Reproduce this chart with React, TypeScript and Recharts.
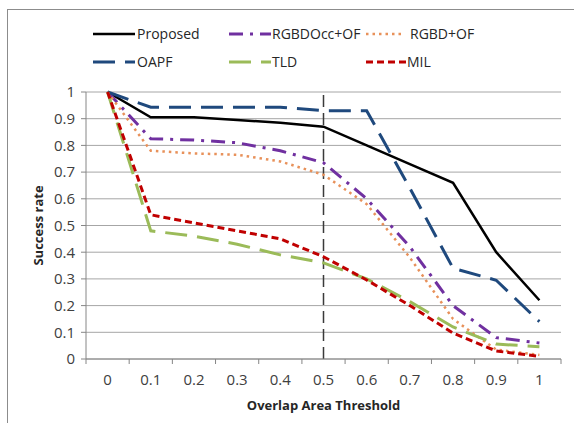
import { CartesianGrid, Line, LineChart, ReferenceLine, XAxis, YAxis } from "recharts";

const CATEGORIES = ["0", "0.1", "0.2", "0.3", "0.4", "0.5", "0.6", "0.7", "0.8", "0.9", "1"];
const PROPOSED = [1, 0.905, 0.905, 0.895, 0.885, 0.87, 0.8, 0.73, 0.66, 0.4, 0.22];
const RGBDOCC_OF = [1, 0.825, 0.82, 0.81, 0.78, 0.735, 0.6, 0.42, 0.2, 0.08, 0.06];
const RGBD_OF = [1, 0.78, 0.77, 0.765, 0.74, 0.69, 0.58, 0.38, 0.15, 0.035, 0.015];
const OAPF = [1, 0.943, 0.943, 0.943, 0.943, 0.93, 0.93, 0.64, 0.34, 0.295, 0.14];
const TLD = [1, 0.48, 0.46, 0.43, 0.39, 0.36, 0.3, 0.215, 0.12, 0.056, 0.046];
const MIL = [1, 0.54, 0.51, 0.48, 0.45, 0.383, 0.296, 0.2, 0.097, 0.03, 0.01];
const Y_TICKS = [0, 0.1, 0.2, 0.3, 0.4, 0.5, 0.6, 0.7, 0.8, 0.9, 1];
const THRESHOLD = "0.5";

const SERIES = [
  { key: "proposed", name: "Proposed", values: PROPOSED, color: "#000000", dash: undefined, width: 2.5 },
  { key: "rgbdocc", name: "RGBDOcc+OF", values: RGBDOCC_OF, color: "#7030A0", dash: "14 7 3 7", width: 3 },
  { key: "rgbd", name: "RGBD+OF", values: RGBD_OF, color: "#E8915A", dash: "2.5 4", width: 2.5 },
  { key: "oapf", name: "OAPF", values: OAPF, color: "#1F497D", dash: "22 10", width: 3 },
  { key: "tld", name: "TLD", values: TLD, color: "#9BBB59", dash: "22 10", width: 3 },
  { key: "mil", name: "MIL", values: MIL, color: "#C00000", dash: "7 4", width: 3 },
];

const data = CATEGORIES.map((c, i) => {
  const row: Record<string, number | string> = { label: c, x: i + 0.5 };
  SERIES.forEach((s) => (row[s.key] = s.values[i]));
  return row;
});

const W = 574;
const H = 423;
const PLOT_LEFT = 86;
const PLOT_RIGHT = 561;
const PLOT_TOP = 92;
const PLOT_BOTTOM = 359;
const HALF_BAND = (PLOT_RIGHT - PLOT_LEFT) / CATEGORIES.length / 2;
const FONT = "'Open Sans', sans-serif";

// legend slots: [lineStart, lineEnd, textX, y]
const LEGEND_POS = [
  [93, 135, 137, 34],
  [229, 271, 272, 34],
  [366, 403, 410, 34],
  [93, 135, 137, 62],
  [229, 271, 272, 62],
  [366, 406, 407, 62],
];

function XTick({ x, y, payload }: any) {
  const label = CATEGORIES[payload.value];
  if (label === undefined) return <g />;
  return (
    <text x={x + HALF_BAND} y={y} dy={19} textAnchor="middle" fill="#404040" fontSize={15} fontFamily={FONT}>
      {label}
    </text>
  );
}

function ChartLegend() {
  return (
    <svg width={W} height={80} style={{ position: "absolute", left: 0, top: 0 }}>
      {SERIES.map((s, i) => {
        const [x1, x2, tx, y] = LEGEND_POS[i];
        return (
          <g key={s.key}>
            <line x1={x1} x2={x2} y1={y} y2={y} stroke={s.color} strokeWidth={s.width} strokeDasharray={s.dash} />
            <text x={tx} y={y} dy={5} fontSize={14} fontFamily={FONT} fill="#262626">
              {s.name}
            </text>
          </g>
        );
      })}
    </svg>
  );
}

export default function App() {
  const thresholdX = CATEGORIES.indexOf(THRESHOLD) + 0.5;
  return (
    <div style={{ position: "absolute", left: 0, top: 0, width: W, height: H, overflow: "hidden", background: "#fff" }}>
      <div style={{ position: "absolute", left: 7, top: 9, width: 620, height: 460, border: "1px solid #8c8c8c" }} />
      <ChartLegend />
      <LineChart
        width={W}
        height={H}
        data={data}
        margin={{ top: PLOT_TOP, right: W - PLOT_RIGHT, left: PLOT_LEFT - 60, bottom: H - PLOT_BOTTOM - 30 }}
        style={{ position: "absolute", left: 0, top: 0 }}
      >
        <CartesianGrid vertical={false} stroke="#a6a6a6" />
        <XAxis
          type="number"
          dataKey="x"
          domain={[0, CATEGORIES.length]}
          ticks={CATEGORIES.map((_, i) => i).concat(CATEGORIES.length)}
          interval={0}
          height={30}
          stroke="#868686"
          tickSize={5}
          tick={<XTick />}
          label={({ viewBox }: any) => (
            <text
              x={viewBox.x + viewBox.width / 2}
              y={405}
              dy={5}
              textAnchor="middle"
              fontSize={13}
              fontWeight="bold"
              fontFamily={FONT}
              fill="#262626"
            >
              Overlap Area Threshold
            </text>
          )}
        />
        <YAxis
          type="number"
          domain={[0, 1]}
          ticks={Y_TICKS}
          interval={0}
          width={60}
          stroke="#868686"
          tickSize={5}
          tickMargin={6}
          tick={{ fill: "#404040", fontSize: 15, fontFamily: FONT }}
          tickFormatter={(v: number) => String(v)}
          label={() => (
            <text
              transform={`translate(38, ${(PLOT_TOP + PLOT_BOTTOM) / 2}) rotate(-90)`}
              textAnchor="middle"
              dy={5}
              fontSize={13}
              fontWeight="bold"
              fontFamily={FONT}
              fill="#262626"
            >
              Success rate
            </text>
          )}
        />
        <ReferenceLine x={thresholdX} stroke="#3a3a3a" strokeWidth={1.5} strokeDasharray="12 6" />
        {SERIES.map((s) => (
          <Line
            key={s.key}
            dataKey={s.key}
            name={s.name}
            type="linear"
            stroke={s.color}
            strokeWidth={s.width}
            strokeDasharray={s.dash}
            dot={false}
            activeDot={false}
            isAnimationActive={false}
          />
        ))}
      </LineChart>
    </div>
  );
}
